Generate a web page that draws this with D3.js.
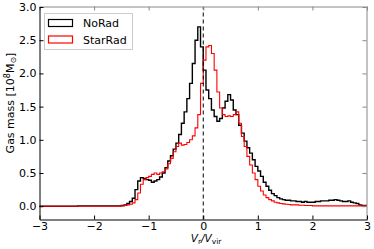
<!DOCTYPE html>
<html>
<head>
<meta charset="utf-8">
<script src="https://cdn.jsdelivr.net/npm/d3@7"></script>
<style>
  body { margin: 0; background: #fff; }
  text { font-family: "DejaVu Sans", sans-serif; }
</style>
</head>
<body>
<div id="chart"></div>
<script>

// histogram bins: left edges from -3 to 2.95, width 0.05
var binStart = -3, binWidth = 0.05;

// NoRad (black)
var noRad = [
    0, 0, 0, 0, 0, 0, 0, 0, 0, 0, 0, 0, 0, 0,
    0.005, 0.005, 0.005, 0.005, 0.005, 0.005, 0.005, 0.005,
    0.005, 0.005, 0.005, 0.005, 0.005, 0.005, 0.005, 0.005,
    0.01, 0.02, 0.04, 0.07, 0.12, 0.25, 0.38, 0.43, 0.42, 0.40,
    0.39, 0.36, 0.38, 0.40, 0.44, 0.50, 0.58, 0.68, 0.76, 0.86,
    0.95, 1.08, 1.25, 1.42, 1.62, 1.85, 2.15, 2.50, 2.70, 2.40,
    2.05, 1.75, 1.62, 1.45, 1.35, 1.28, 1.32, 1.48, 1.58, 1.68,
    1.60, 1.45, 1.38, 1.22, 1.10, 0.98, 0.88, 0.80, 0.70, 0.60,
    0.53, 0.45, 0.36, 0.30, 0.24, 0.19, 0.16, 0.13, 0.11, 0.10,
    0.09, 0.09, 0.08, 0.08, 0.07, 0.07, 0.06, 0.07, 0.06, 0.06,
    0.06, 0.07, 0.07, 0.08, 0.08, 0.08, 0.09, 0.09, 0.10, 0.09,
    0.08, 0.07, 0.07, 0.08, 0.06, 0.05, 0.04, 0.02, 0.01, 0.01
];

// StarRad (red)
var starRad = [
    0, 0, 0, 0, 0, 0, 0, 0, 0, 0, 0, 0, 0, 0, 0,
    0, 0, 0, 0, 0, 0, 0, 0, 0, 0, 0, 0, 0, 0, 0,
    0.005, 0.01, 0.02, 0.03, 0.05, 0.10, 0.20, 0.33, 0.40, 0.43,
    0.45, 0.48, 0.50, 0.48, 0.50, 0.52, 0.56, 0.64, 0.72, 0.82,
    0.90, 0.95, 0.92, 0.93, 0.96, 1.00, 1.06, 1.18, 1.38, 1.85,
    2.20, 2.40, 2.42, 2.30, 2.05, 1.72, 1.48, 1.38, 1.35, 1.36,
    1.35, 1.38, 1.42, 1.25, 1.05, 0.90, 0.75, 0.62, 0.50, 0.40,
    0.30, 0.23, 0.17, 0.13, 0.10, 0.08, 0.06, 0.05, 0.04, 0.035,
    0.03, 0.025, 0.02, 0.02, 0.02, 0.015, 0.015, 0.01, 0.01, 0.01,
    0.005, 0.005, 0.005, 0.005, 0.005, 0.005, 0.005, 0.005, 0.005, 0.005,
    0.005, 0.005, 0.005, 0.005, 0.005, 0.005, 0.005, 0.005, 0.005, 0.005
];

var xTicks = [-3, -2, -1, 0, 1, 2, 3];
var yTicks = [0, 0.5, 1, 1.5, 2, 2.5, 3];

var W = 374, H = 249;
var margin = {left: 39.5, right: 7, top: 7, bottom: 29.5};

var svg = d3.select("#chart").append("svg")
    .attr("width", W)
    .attr("height", H);

var x = d3.scaleLinear().domain([-3, 3]).range([margin.left, W - margin.right]);
var y = d3.scaleLinear().domain([-0.2, 3]).range([H - margin.bottom, margin.top]);

// turn the bin values into step points, last edge repeated
function steps(vals) {
    var pts = vals.map(function(v, i) {
        return [binStart + i * binWidth, v];
    });
    pts.push([binStart + vals.length * binWidth, vals[vals.length - 1]]);
    return pts;
}

var line = d3.line()
    .x(function(d) { return x(d[0]); })
    .y(function(d) { return y(d[1]); })
    .curve(d3.curveStepAfter);

svg.append("path")
    .attr("d", line(steps(noRad)))
    .attr("fill", "none")
    .attr("stroke", "#000")
    .attr("stroke-width", 1.4);

svg.append("path")
    .attr("d", line(steps(starRad)))
    .attr("fill", "none")
    .attr("stroke", "#ff0000")
    .attr("stroke-width", 1.1);

// dashed line at zero
svg.append("line")
    .attr("x1", x(0)).attr("x2", x(0))
    .attr("y1", y(-0.2)).attr("y2", y(3))
    .attr("stroke", "#000")
    .attr("stroke-width", 1)
    .attr("stroke-dasharray", "4,3");

// axes, ticks pointing inward
var axBottom = d3.axisBottom(x).tickValues(xTicks).tickSizeInner(-4).tickSizeOuter(0).tickPadding(3)
    .tickFormat(d3.format("d"));
var axLeft = d3.axisLeft(y).tickValues(yTicks).tickSizeInner(-4).tickSizeOuter(0).tickPadding(3)
    .tickFormat(d3.format(".1f"));
var axTop = d3.axisTop(x).tickValues(xTicks).tickSizeInner(-4).tickSizeOuter(0).tickFormat("");
var axRight = d3.axisRight(y).tickValues(yTicks).tickSizeInner(-4).tickSizeOuter(0).tickFormat("");

function styleAxis(g, col) {
    g.selectAll("path").attr("stroke", col);
    g.selectAll("line").attr("stroke", col);
    g.selectAll("text")
        .attr("fill", "#000")
        .style("font-size", "11px");
}

svg.append("g").attr("transform", "translate(0," + (y(3) - 0.5) + ")")
    .call(axTop).call(styleAxis, "#888");
svg.append("g").attr("transform", "translate(" + (x(3) - 0.5) + ",0)")
    .call(axRight).call(styleAxis, "#888");
svg.append("g").attr("transform", "translate(0," + y(-0.2) + ")")
    .call(axBottom).call(styleAxis, "#000");
svg.append("g").attr("transform", "translate(" + x(-3) + ",0)")
    .call(axLeft).call(styleAxis, "#000");

// legend
var legend = svg.append("g");
legend.append("rect")
    .attr("x", 44.5).attr("y", 13.5)
    .attr("width", 88).attr("height", 36)
    .attr("fill", "#fff")
    .attr("stroke", "#ccc");

var legendItems = [
    {name: "NoRad", color: "#000"},
    {name: "StarRad", color: "#ff0000"}
];
legendItems.forEach(function(d, i) {
    var yy = 19.5 + i * 16.5;
    legend.append("rect")
        .attr("x", 48.5).attr("y", yy)
        .attr("width", 24).attr("height", 7)
        .attr("fill", "none")
        .attr("stroke", d.color)
        .attr("stroke-width", 1.2);
    legend.append("text")
        .attr("x", 83).attr("y", yy + 7.5)
        .style("font-size", "11px")
        .text(d.name);
});

// axis labels
var ylab = svg.append("text")
    .attr("transform", "translate(14,103) rotate(-90)")
    .attr("text-anchor", "middle")
    .style("font-size", "11px");
ylab.append("tspan").text("Gas mass [10");
ylab.append("tspan").attr("dy", -4).style("font-size", "8px").text("8");
ylab.append("tspan").attr("dy", 4).text("M");
ylab.append("tspan").attr("dy", 2).style("font-size", "8px").text("\u2299");
ylab.append("tspan").attr("dy", -2).text("]");

var xlab = svg.append("text")
    .attr("x", 206).attr("y", 242)
    .attr("text-anchor", "middle")
    .style("font-size", "10.5px");
xlab.append("tspan").style("font-style", "italic").text("V");
xlab.append("tspan").attr("dy", 2).style("font-size", "7.5px").text("r");
xlab.append("tspan").attr("dy", -2).style("font-style", "italic").text("/V");
xlab.append("tspan").attr("dy", 2).style("font-size", "7.5px").text("vir");

</script>
</body>
</html>
